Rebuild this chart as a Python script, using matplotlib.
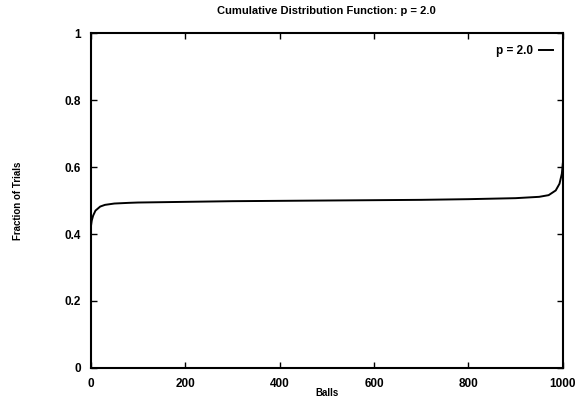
import matplotlib
matplotlib.use("Agg")
import matplotlib.pyplot as plt

balls = [0, 2, 5, 10, 20, 30, 50, 80, 100, 200, 300, 400, 500, 600, 700, 800, 900, 950, 970, 985, 993, 998, 1000]
fraction = [0.42, 0.44, 0.455, 0.47, 0.482, 0.487, 0.491, 0.493, 0.494, 0.496, 0.498, 0.499, 0.500,
            0.501, 0.502, 0.504, 0.507, 0.511, 0.516, 0.53, 0.55, 0.58, 0.61]
xticks = [0, 200, 400, 600, 800, 1000]
yticks = [0, 0.2, 0.4, 0.6, 0.8, 1]
yticklabels = ["0", "0.2", "0.4", "0.6", "0.8", "1"]

plt.rcParams['font.family'] = ['Liberation Sans', 'DejaVu Sans']
plt.rcParams['font.weight'] = 'bold'

fig = plt.figure(figsize=(5.82, 3.98), dpi=100)
ax = fig.add_axes([0.156, 0.0754, 0.811, 0.8416])
ax.plot(balls, fraction, color='black', linewidth=1.4, label='p = 2.0')
ax.set_xlim(0, 1000)
ax.set_ylim(0, 1)
ax.set_xticks(xticks)
ax.set_yticks(yticks)
ax.set_yticklabels(yticklabels)
ax.tick_params(direction='in', top=True, right=True, length=4, width=1, labelsize=8.5, pad=7)
for s in ax.spines.values():
    s.set_linewidth(1.5)
ax.set_title('Cumulative Distribution Function: p = 2.0', fontsize=8, fontweight='bold', pad=14)
ax.set_xlabel('Balls', fontsize=7, fontweight='bold', labelpad=-1)
ax.set_ylabel('Fraction of Trials', fontsize=7, fontweight='bold', labelpad=30)
leg = ax.legend(loc='upper right', frameon=False, fontsize=8.5, markerfirst=False,
                handlelength=1.2, handletextpad=0.5, borderaxespad=0.2,
                bbox_to_anchor=(0.995, 0.985))
fig.savefig('out.png', dpi=100)
